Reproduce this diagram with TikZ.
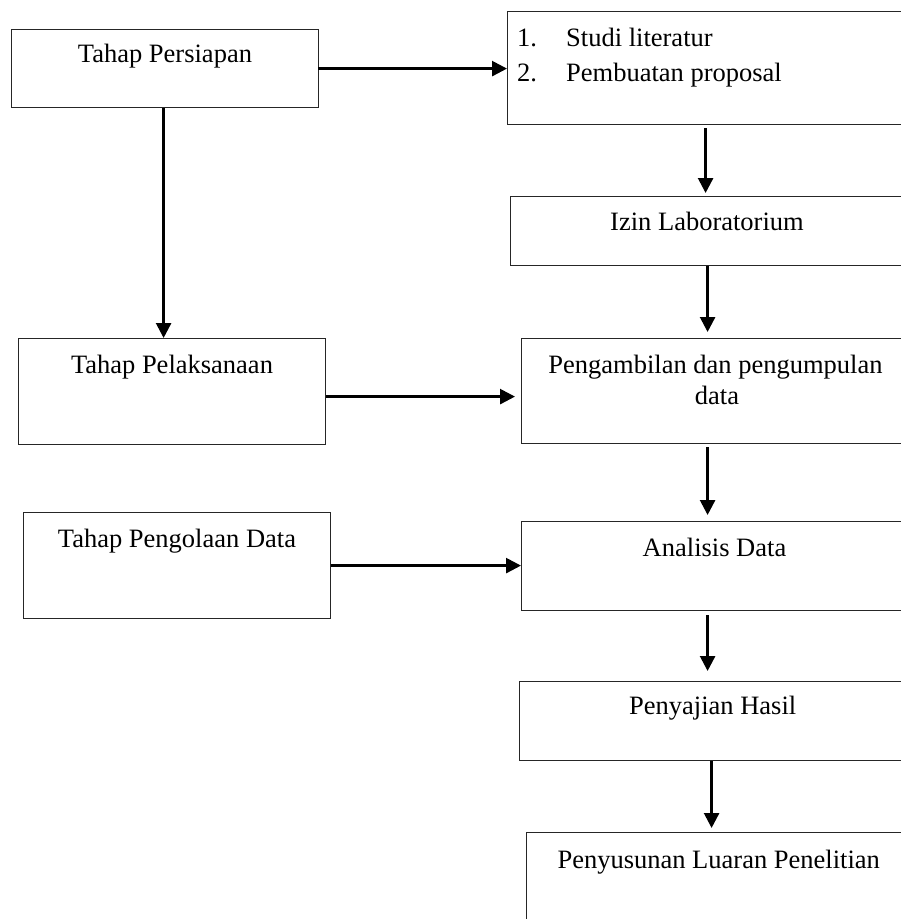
\documentclass[tikz,border=0pt]{standalone}
\usepackage{fontspec}
\setmainfont{Liberation Serif}
\usetikzlibrary{arrows.meta}
\begin{document}
\begin{tikzpicture}[x=1pt,y=-1pt,
  box/.style={draw=black!85,line width=1.2pt,rectangle,inner sep=0pt,anchor=north west},
  lbl/.style={anchor=base,inner sep=0pt,font=\fontsize{26.5}{31}\selectfont},
  lbll/.style={anchor=base west,inner sep=0pt,font=\fontsize{26.5}{31}\selectfont},
  arr/.style={line width=2.6pt,-{Triangle[length=15pt,width=15pt]}}]
\clip (0,0) rectangle (901,919);
\fill[white] (0,0) rectangle (901,919);
% boxes
\node[box,minimum width=307pt,minimum height=78pt] (persiapan) at (11,29) {};
\node[box,minimum width=403pt,minimum height=113pt] (studi) at (507,11) {};
\node[box,minimum width=400pt,minimum height=69pt] (izin) at (510,196) {};
\node[box,minimum width=307pt,minimum height=106pt] (pelaksanaan) at (18,338) {};
\node[box,minimum width=389pt,minimum height=105pt] (pengambilan) at (521,338) {};
\node[box,minimum width=307pt,minimum height=106pt] (pengolaan) at (23,512) {};
\node[box,minimum width=389pt,minimum height=89pt] (analisis) at (521,521) {};
\node[box,minimum width=391pt,minimum height=79pt] (penyajian) at (519,681) {};
\node[box,minimum width=384pt,minimum height=120pt] (penyusunan) at (526,832) {};
% texts
\node[lbl] (t1) at (165,62.5) {Tahap Persiapan};
\node[lbll] (t2a) at (517,46) {1.};
\node[lbll] (t2b) at (566,46) {Studi literatur};
\node[lbll] (t2c) at (517,81.5) {2.};
\node[lbll] (t2d) at (566,81.5) {Pembuatan proposal};
\node[lbl] (t3) at (707,230.5) {Izin Laboratorium};
\node[lbl] (t4) at (172,373.5) {Tahap Pelaksanaan};
\node[lbl] (t5a) at (715.5,373.5) {Pengambilan dan pengumpulan};
\node[lbl] (t5b) at (717,404.5) {data};
\node[lbl] (t6) at (177,547.5) {Tahap Pengolaan Data};
\node[lbl] (t7) at (714.5,556) {Analisis Data};
\node[lbl] (t8) at (712.7,714.5) {Penyajian Hasil};
\node[lbl] (t9) at (718.7,868.5) {Penyusunan Luaran Penelitian};
% connectors
\draw[arr] ([xshift=-1pt]persiapan.east) -- (persiapan.east -| studi.west);
\draw[arr] ([xshift=-1.5pt]persiapan.south) -- ([xshift=-1.5pt]persiapan.south |- pelaksanaan.north);
\draw[arr,shorten <=3pt,shorten >=3pt] ([xshift=-3.5pt]studi.south) -- ([xshift=-3.5pt]studi.south |- izin.north);
\draw[arr,shorten >=6pt] ([xshift=-3pt]izin.south) -- ([xshift=-3pt]izin.south |- pengambilan.north);
\draw[arr,shorten >=6pt] ([yshift=-5pt]pelaksanaan.east) -- ([yshift=-5pt]pelaksanaan.east -| pengambilan.west);
\draw[arr,shorten <=3pt,shorten >=6pt] ([xshift=-8.5pt]pengambilan.south) -- ([xshift=-8.5pt]pengambilan.south |- analisis.north);
\draw[arr] (pengolaan.east) -- (pengolaan.east -| analisis.west);
\draw[arr,shorten <=4pt,shorten >=10pt] ([xshift=-8.5pt]analisis.south) -- ([xshift=-8.5pt]analisis.south |- penyajian.north);
\draw[arr,shorten >=4pt] ([xshift=-3.5pt]penyajian.south) -- ([xshift=-3.5pt]penyajian.south |- penyusunan.north);
\end{tikzpicture}
\end{document}
